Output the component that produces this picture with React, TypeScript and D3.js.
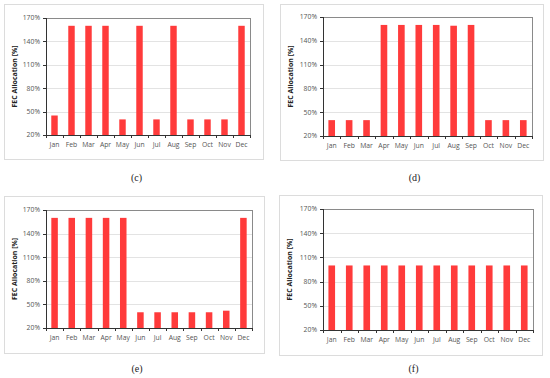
import React from "react";
import * as d3 from "d3";

const months = ["Jan", "Feb", "Mar", "Apr", "May", "Jun", "Jul", "Aug", "Sep", "Oct", "Nov", "Dec"];
const yTicks = [20, 50, 80, 110, 140, 170];
const seriesC = [45, 160, 160, 160, 40, 160, 40, 160, 40, 40, 40, 160];
const seriesD = [40, 40, 40, 160, 160, 160, 160, 159, 160, 40, 40, 40];
const seriesE = [160, 160, 160, 160, 160, 40, 40, 40, 40, 40, 42, 160];
const seriesF = [100, 100, 100, 100, 100, 100, 100, 100, 100, 100, 100, 100];
const captions = ["(c)", "(d)", "(e)", "(f)"];

type Rect = { x0: number; y0: number; x1: number; y1: number };

function Panel({ values, caption, box, plot, capY }: { values: number[]; caption: string; box: Rect; plot: Rect; capY: number }) {
  const x = d3.scaleBand<string>().domain(months).range([plot.x0, plot.x1]).paddingInner(0.62).paddingOuter(0.31);
  const y = d3.scaleLinear().domain([20, 170]).range([plot.y1, plot.y0]);
  const step = x.step();
  const font = "'Open Sans', 'Liberation Sans', sans-serif";
  return (
    <g>
      <rect x={box.x0 + 0.5} y={box.y0 + 0.5} width={box.x1 - box.x0} height={box.y1 - box.y0} fill="white" stroke="#dcdcdc" strokeWidth={1} />
      {yTicks.map((t) => (
        <g key={t}>
          {t > 20 && t < 170 && (
            <line x1={plot.x0} x2={plot.x1} y1={Math.round(y(t)) + 0.5} y2={Math.round(y(t)) + 0.5} stroke="#e3e3e3" strokeWidth={1} />
          )}
          <line x1={plot.x0 - 3} x2={plot.x0} y1={Math.round(y(t)) + 0.5} y2={Math.round(y(t)) + 0.5} stroke="#333" strokeWidth={1} />
          <text x={plot.x0 - 6} y={y(t) + 2.3} textAnchor="end" fontSize={6.8} fill="#555" fontFamily={font}>
            {t}%
          </text>
        </g>
      ))}
      {values.map((v, i) => (
        <rect key={i} x={x(months[i])!} y={y(v)} width={x.bandwidth()} height={plot.y1 - y(v)} fill="#ff3b3b" />
      ))}
      <rect x={plot.x0 + 0.5} y={plot.y0 + 0.5} width={plot.x1 - plot.x0} height={plot.y1 - plot.y0} fill="none" stroke="#8a8a8a" strokeWidth={1} />
      <line x1={plot.x0 + 0.5} x2={plot.x0 + 0.5} y1={plot.y0} y2={plot.y1 + 1} stroke="#333" strokeWidth={1} />
      <line x1={plot.x0} x2={plot.x1 + 1} y1={plot.y1 + 0.5} y2={plot.y1 + 0.5} stroke="#333" strokeWidth={1} />
      {d3.range(months.length + 1).map((i) => (
        <line key={i} x1={Math.round(plot.x0 + i * step) + 0.5} x2={Math.round(plot.x0 + i * step) + 0.5} y1={plot.y1} y2={plot.y1 + 3} stroke="#333" strokeWidth={1} />
      ))}
      {months.map((m) => (
        <text key={m} x={x(m)! + x.bandwidth() / 2} y={plot.y1 + 11.5} textAnchor="middle" fontSize={6.8} fill="#555" fontFamily={font}>
          {m}
        </text>
      ))}
      <text
        transform={`translate(${box.x0 + 12.5},${(plot.y0 + plot.y1) / 2}) rotate(-90)`}
        textAnchor="middle"
        fontSize={7}
        fontWeight="bold"
        fill="#222"
        fontFamily={font}
      >
        FEC Allocation [%]
      </text>
      <text x={(box.x0 + box.x1) / 2 + 3} y={capY} textAnchor="middle" fontSize={10} fill="#222" fontFamily="'Liberation Serif', 'DejaVu Serif', serif">
        {caption}
      </text>
    </g>
  );
}

export default function App() {
  return (
    <svg width={550} height={378} style={{ position: "absolute", left: 0, top: 0, background: "white" }}>
      <rect width={550} height={378} fill="white" />
      <Panel values={seriesC} caption={captions[0]} box={{ x0: 4, y0: 4, x1: 263, y1: 159 }} plot={{ x0: 46, y0: 18, x1: 250, y1: 135 }} capY={181} />
      <Panel values={seriesD} caption={captions[1]} box={{ x0: 280, y0: 4, x1: 543, y1: 160 }} plot={{ x0: 323, y0: 17, x1: 532, y1: 136 }} capY={181} />
      <Panel values={seriesE} caption={captions[2]} box={{ x0: 4, y0: 196, x1: 264, y1: 353 }} plot={{ x0: 46, y0: 210, x1: 252, y1: 328 }} capY={372} />
      <Panel values={seriesF} caption={captions[3]} box={{ x0: 279, y0: 195, x1: 542, y1: 355 }} plot={{ x0: 323, y0: 209, x1: 533, y1: 330 }} capY={372} />
    </svg>
  );
}
